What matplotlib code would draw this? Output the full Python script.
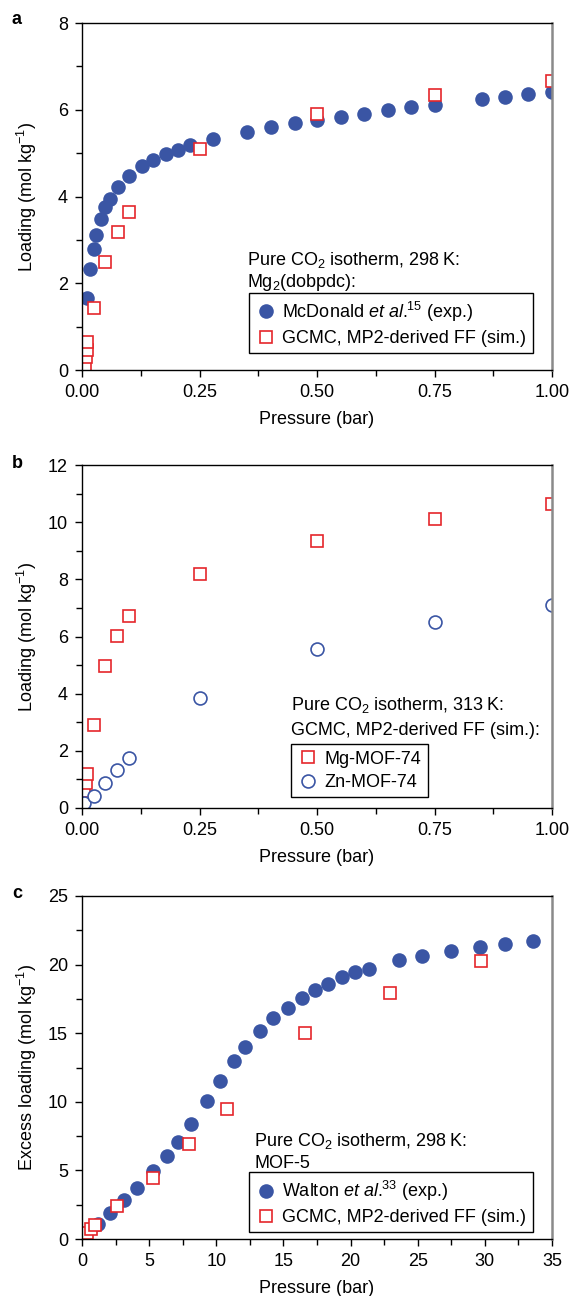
import matplotlib
matplotlib.use('Agg')
import matplotlib.pyplot as plt
from matplotlib.ticker import MultipleLocator

plt.rcParams['font.family'] = ['Liberation Sans', 'DejaVu Sans']
plt.rcParams['mathtext.fontset'] = 'custom'
plt.rcParams['mathtext.rm'] = 'Liberation Sans'
plt.rcParams['mathtext.it'] = 'Liberation Sans:italic'
FS = 13
plt.rcParams['font.size'] = FS

blue = '#3A55A4'
red = '#E5262B'

# panel a: Mg2(dobpdc), 298 K
a_exp_p = [0.011, 0.016, 0.025, 0.029, 0.040, 0.049, 0.060, 0.076, 0.101, 0.127,
           0.151, 0.179, 0.205, 0.230, 0.278, 0.351, 0.403, 0.454, 0.501, 0.551,
           0.600, 0.650, 0.700, 0.750, 0.850, 0.900, 0.949, 1.000]
a_exp_q = [1.65, 2.33, 2.79, 3.11, 3.48, 3.75, 3.94, 4.22, 4.47, 4.70,
           4.84, 4.97, 5.08, 5.18, 5.32, 5.48, 5.60, 5.69, 5.76, 5.84,
           5.91, 5.99, 6.06, 6.12, 6.25, 6.30, 6.36, 6.41]
a_sim_p = [0.006, 0.008, 0.010, 0.011, 0.026, 0.050, 0.076, 0.100, 0.250, 0.500, 0.750, 1.000]
a_sim_q = [0.12, 0.29, 0.46, 0.64, 1.44, 2.48, 3.18, 3.65, 5.10, 5.91, 6.35, 6.66]

# panel b: MOF-74, 313 K
b_p = [0.004, 0.005, 0.008, 0.011, 0.025, 0.050, 0.075, 0.100, 0.250, 0.500, 0.750, 1.000]
b_mg = [0.29, 0.58, 0.87, 1.20, 2.91, 4.96, 6.02, 6.71, 8.19, 9.33, 10.10, 10.64]
b_zn_p = [0.005, 0.025, 0.050, 0.075, 0.100, 0.250, 0.500, 0.750, 1.000]
b_zn = [0.18, 0.43, 0.89, 1.32, 1.76, 3.84, 5.55, 6.49, 7.11]

# panel c: MOF-5, 298 K
c_exp_p = [1.22, 2.08, 3.16, 4.11, 5.25, 6.30, 7.14, 8.11, 9.30, 10.28,
           11.33, 12.17, 13.25, 14.23, 15.34, 16.39, 17.34, 18.34, 19.39, 20.34,
           21.37, 23.64, 25.35, 27.51, 29.65, 31.51, 33.62]
c_exp_q = [1.10, 1.87, 2.83, 3.72, 4.96, 6.06, 7.09, 8.41, 10.09, 11.53,
           12.99, 14.00, 15.17, 16.08, 16.87, 17.59, 18.17, 18.60, 19.06, 19.44,
           19.68, 20.33, 20.66, 21.02, 21.31, 21.52, 21.69]
c_sim_p = [0.2, 0.4, 0.65, 1.0, 2.60, 5.25, 7.95, 10.77, 16.64, 22.94, 29.73]
c_sim_q = [0.22, 0.45, 0.74, 1.0, 2.40, 4.46, 6.95, 9.47, 14.98, 17.93, 20.25]

fig = plt.figure(figsize=(5.71, 12.96), dpi=100)
L, W = 82 / 571, 470 / 571
H = 343 / 1296
ax_a = fig.add_axes([L, 1 - 370 / 1296, W, 347 / 1296])
ax_b = fig.add_axes([L, 1 - 808 / 1296, W, H])
ax_c = fig.add_axes([L, 1 - 1239 / 1296, W, H])


def style(ax):
    for s in ['left', 'bottom', 'top']:
        ax.spines[s].set_linewidth(1.0)
        ax.spines[s].set_color('black')
    ax.spines['right'].set_color('#8a8a8a')
    ax.spines['right'].set_linewidth(1.8)
    ax.tick_params(which='both', direction='out', top=False, right=False, labelsize=FS, width=1)
    ax.tick_params(which='major', length=5, pad=5)
    ax.tick_params(which='minor', length=4)
    ax.xaxis.labelpad = 7
    ax.yaxis.set_label_coords(-0.092, 0.5)


circ = dict(marker='o', ls='none', ms=10.5, mfc=blue, mec=blue, mew=0)
sq = dict(marker='s', ls='none', ms=8.3, mfc='white', mec=red, mew=1.2)
ocirc = dict(marker='o', ls='none', ms=9.3, mfc='white', mec=blue, mew=1.2)

# ---- a
ax = ax_a
ax.plot(a_exp_p, a_exp_q, label='McDonald $\\mathit{et\\ al.}^{\\!\\!15}$ (exp.)', **circ)
ax.plot(a_sim_p, a_sim_q, label='GCMC, MP2-derived FF (sim.)', **sq)
ax.set_xlim(0, 1)
ax.set_ylim(0, 8)
ax.xaxis.set_major_locator(MultipleLocator(0.25))
ax.xaxis.set_minor_locator(MultipleLocator(0.125))
ax.yaxis.set_major_locator(MultipleLocator(2))
ax.yaxis.set_minor_locator(MultipleLocator(1))
ax.xaxis.set_major_formatter(lambda v, p: '%.2f' % v)
ax.set_xlabel('Pressure (bar)', fontsize=FS)
ax.set_ylabel('Loading (mol kg$^{-1}$)', fontsize=FS)
ax.text(0.352, 0.317, 'Pure CO$_2$ isotherm, 298\u2009K:', transform=ax.transAxes, va='center', fontsize=FS)
ax.text(0.352, 0.251, 'Mg$_2$(dobpdc):', transform=ax.transAxes, va='center', fontsize=FS)
style(ax)

# ---- b
ax = ax_b
ax.plot(b_p, b_mg, label='Mg-MOF-74', **sq)
ax.plot(b_zn_p, b_zn, label='Zn-MOF-74', **ocirc)
ax.set_xlim(0, 1)
ax.set_ylim(0, 12)
ax.xaxis.set_major_locator(MultipleLocator(0.25))
ax.xaxis.set_minor_locator(MultipleLocator(0.125))
ax.yaxis.set_major_locator(MultipleLocator(2))
ax.yaxis.set_minor_locator(MultipleLocator(1))
ax.xaxis.set_major_formatter(lambda v, p: '%.2f' % v)
ax.set_xlabel('Pressure (bar)', fontsize=FS)
ax.set_ylabel('Loading (mol kg$^{-1}$)', fontsize=FS)
ax.text(0.445, 0.301, 'Pure CO$_2$ isotherm, 313\u2009K:', transform=ax.transAxes, va='center', fontsize=FS)
ax.text(0.445, 0.226, 'GCMC, MP2-derived FF (sim.):', transform=ax.transAxes, va='center', fontsize=FS)
style(ax)

# ---- c
ax = ax_c
ax.plot(c_exp_p, c_exp_q, label='Walton $\\mathit{et\\ al.}^{\\!\\!33}$ (exp.)', **circ)
ax.plot(c_sim_p, c_sim_q, label='GCMC, MP2-derived FF (sim.)', **sq)
ax.set_xlim(0, 35)
ax.set_ylim(0, 25)
ax.xaxis.set_major_locator(MultipleLocator(5))
ax.xaxis.set_minor_locator(MultipleLocator(2.5))
ax.yaxis.set_major_locator(MultipleLocator(5))
ax.yaxis.set_minor_locator(MultipleLocator(2.5))
ax.set_xlabel('Pressure (bar)', fontsize=FS)
ax.set_ylabel('Excess loading (mol kg$^{-1}$)', fontsize=FS)
ax.text(0.366, 0.286, 'Pure CO$_2$ isotherm, 298\u2009K:', transform=ax.transAxes, va='center', fontsize=FS)
ax.text(0.366, 0.221, 'MOF-5', transform=ax.transAxes, va='center', fontsize=FS)
style(ax)

leg_kw = dict(fontsize=FS, fancybox=False, framealpha=1, edgecolor='black',
              handletextpad=0.3, borderpad=0.35, labelspacing=0.35, handlelength=1.2,
              borderaxespad=0)
for ax, anchor in [(ax_a, (0.355, 0.048)), (ax_b, (0.445, 0.031)), (ax_c, (0.355, 0.019))]:
    lg = ax.legend(loc='lower left', bbox_to_anchor=anchor, **leg_kw)
    lg.get_frame().set_linewidth(1.0)

for lab, y in [('a', 20), ('b', 463), ('c', 893)]:
    fig.text(12 / 571, 1 - y / 1296, lab, fontsize=FS, fontweight='bold', va='center')

fig.savefig('out.png', dpi=100)
